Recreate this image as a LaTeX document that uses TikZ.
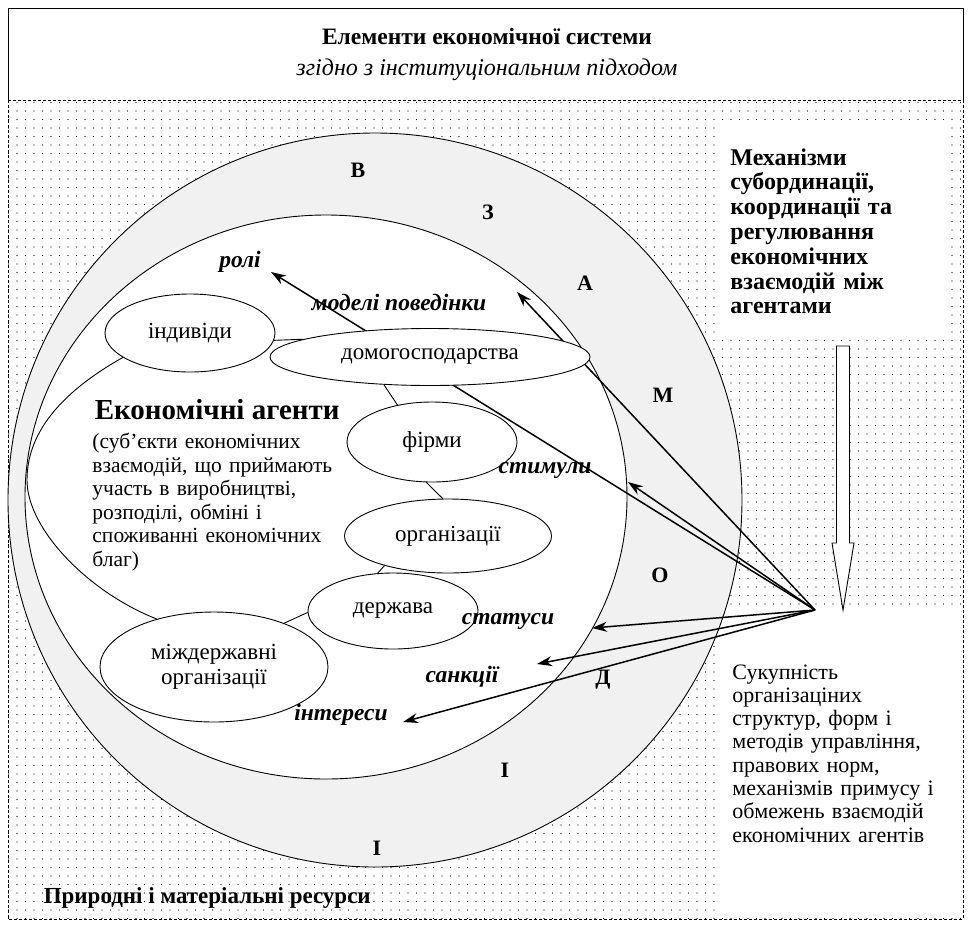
\documentclass[tikz,border=0pt]{standalone}
\usepackage{fontspec}
\setmainfont{Liberation Serif}
\usetikzlibrary{shapes.geometric,arrows.meta,patterns.meta}
\definecolor{ringgray}{gray}{0.945}

\begin{document}
\begin{tikzpicture}[x=1pt,y=-1pt,line width=0.9pt,
	agent/.style={draw,ellipse,fill=white,inner sep=0pt,align=center,font=\fontsize{23}{25}\selectfont},
	ring/.style={font=\bfseries\fontsize{22}{24}\selectfont},
	tag/.style={font=\bfseries\itshape\fontsize{23.5}{25}\selectfont},
	tie/.style={line width=1.5pt,-{Stealth[length=15pt,width=10pt]}},
	side/.style={anchor=north west,inner sep=0pt,align=left}]

	\useasboundingbox (0,0) rectangle (971,927);

	% header and background
	\draw (8,100) -- (8,8) -- (963,8) -- (963,100);
	\node[font=\bfseries\fontsize{23.5}{26}\selectfont] (title) at (487,36) {Елементи економічної системи};
	\node[font=\itshape\fontsize{24}{26}\selectfont] (subtitle) at (487,70) {згідно з інституціональним підходом};
	\fill[pattern={Dots[radius=0.65pt,distance=8.5pt]},pattern color=black] (8,100) rectangle (963,919);
	\draw[densely dashed,line width=0.5pt] (8,100) rectangle (963,919);

	\fill[white] (720,120) rectangle (947,340);
	\fill[white] (722,610) rectangle (963,915);
	\node[side,text width=215pt,font=\bfseries\fontsize{24}{24.8}\selectfont] (mech) at (730,148) {Механізми\\субординації,\\координації та\\регулювання\\економічних\\взаємодій між\\агентами};
	\node[side,text width=228pt,font=\fontsize{22}{23.3}\selectfont] (rules) at (732,664) {Сукупність\\організаціних\\структур, форм і\\методів управління,\\правових норм,\\механізмів примусу і\\обмежень взаємодій\\економічних агентів};

	% circles
	\draw[fill=ringgray] (375,500) circle [radius=367pt];
	\draw[fill=white] (326,497) ellipse [x radius=301pt, y radius=282pt];

	\coordinate (src) at (815,610);
	\coordinate (down) at (843,610);
	\coordinate (tipA) at (517,292);
	\coordinate (tipRoles) at (271,272);
	\coordinate (tipStim) at (628,482);
	\coordinate (tipStat) at (592,628);
	\coordinate (tipSanc) at (537,664);
	\coordinate (tipInt) at (403,722);

	\draw[tie] (src) -- (tipA);
	\draw[tie] (src) -- (tipRoles);
	\draw[tie] (src) -- (tipStim);
	\draw[tie] (src) -- (tipStat);
	\draw[tie] (src) -- (tipSanc);
	\draw[tie] (src) -- (tipInt);

	% hollow arrow
	\draw[fill=white] (843,346) -- ++(-6.5,0) -- ++(0,197) -- ++(-4.5,0) -- (down) -- ++(11,-67) -- ++(-4.5,0) -- ++(0,-197) -- cycle;

	% agents
	\node[agent,minimum width=170pt,minimum height=78pt] (indyv) at (190,333) {індивіди};
	\node[agent,minimum width=320pt,minimum height=57pt] (domo) at (430,357) {домогосподарства};
	\node[agent,minimum width=170pt,minimum height=80pt] (firmy) at (432,442) {фірми};
	\node[agent,minimum width=207pt,minimum height=74pt] (org) at (448,536) {організації};
	\node[agent,minimum width=170pt,minimum height=76pt] (derzh) at (393,611) {держава};
	\node[agent,minimum width=228pt,minimum height=110pt] (mizh) at (214,667) {міждержавні\\організації};

	\draw (indyv.-5) -- (domo.172);
	\draw (domo.211) -- (firmy.133);
	\draw (firmy.262) -- (org.98);
	\draw (org.205) -- (derzh.112);
	\draw (derzh.181) -- (mizh.32);
	\draw (indyv.200) .. controls (65,390) and (27,430) .. (27,480) .. controls (27,530) and (90,593) .. (mizh.140);

	\node[anchor=base west,font=\bfseries\fontsize{29}{32}\selectfont] (agents) at (91,419) {Економічні агенти};
	\node[side,text width=260pt,font=\fontsize{21.5}{23.5}\selectfont] (agentsnote) at (92,433) {(суб’єкти економічних\\взаємодій, що приймають\\участь в виробництві,\\розподілі, обміні і\\споживанні економічних\\благ)};

	% labels
	\node[tag] (roles) at (240,262) {ролі};
	\node[tag] (models) at (399,302) {моделі поведінки};
	\node[tag] (stim) at (545,470) {стимули};
	\node[tag] (stat) at (508,621) {статуси};
	\node[tag] (sanc) at (462,677) {санкції};
	\node[tag] (inter) at (341,715) {інтереси};

	\node[ring] (r1) at (358,170) {В};
	\node[ring] (r2) at (488,212) {З};
	\node[ring] (r3) at (585,283) {А};
	\node[ring] (r4) at (663,395) {М};
	\node[ring] (r5) at (660,575) {О};
	\node[ring] (r6) at (603,680) {Д};
	\node[ring] (r7) at (505,770) {І};
	\node[ring] (r8) at (377,848) {І};

	\node[anchor=base west,font=\bfseries\fontsize{23}{25}\selectfont] (nature) at (40,903) {Природні і матеріальні ресурси};
\end{tikzpicture}
\end{document}
